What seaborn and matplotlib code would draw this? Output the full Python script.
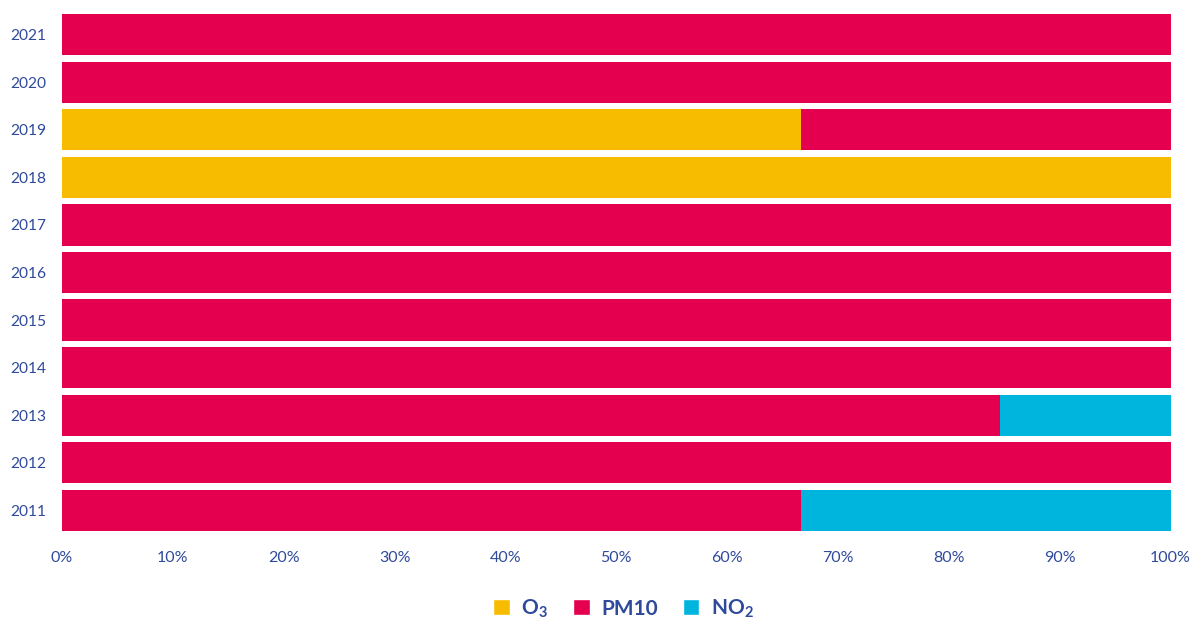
import numpy as np
import pandas as pd
import matplotlib
matplotlib.use('Agg')
import matplotlib.pyplot as plt
import seaborn as sns
from matplotlib.patches import Patch
from matplotlib.ticker import PercentFormatter

# share of exceedance days per pollutant (%)
years = ['2021', '2020', '2019', '2018', '2017', '2016', '2015', '2014', '2013', '2012', '2011']
o3 = [0, 0, 66.7, 100, 0, 0, 0, 0, 0, 0, 0]
pm10 = [100, 100, 33.3, 0, 100, 100, 100, 100, 84.6, 100, 66.7]
no2 = [0, 0, 0, 0, 0, 0, 0, 0, 15.4, 0, 33.3]
labels = ['O$_3$', 'PM10', 'NO$_2$']
colors = ['#F7BC00', '#E4004F', '#00B5DD']
text_col = '#2F4A9C'

df = pd.DataFrame({'year': years, 'O3': o3, 'PM10': pm10, 'NO2': no2})
df['c1'] = df['O3']
df['c2'] = df['O3'] + df['PM10']
df['c3'] = df['c2'] + df['NO2']

sns.set_style('white')
plt.rcParams['font.family'] = ['Lato', 'DejaVu Sans']
plt.rcParams['mathtext.default'] = 'regular'

fig, ax = plt.subplots(figsize=(11.92, 6.25), dpi=100)
fig.subplots_adjust(left=0.052, right=0.982, top=0.9826, bottom=0.1454)

# stacked bars: draw cumulative totals from the widest down
for col, c in zip(['c3', 'c2', 'c1'], colors[::-1]):
    sns.barplot(data=df, x=col, y='year', order=years, color=c, width=0.87,
                orient='h', ax=ax, saturation=1, linewidth=0)

ax.set_xlim(0, 100)
ax.set_xticks(np.arange(0, 101, 10))
ax.xaxis.set_major_formatter(PercentFormatter(decimals=0))
ax.set_xlabel('')
ax.set_ylabel('')
ax.tick_params(axis='both', length=0, labelcolor=text_col)
ax.tick_params(axis='x', pad=12, labelsize=11.5)
ax.tick_params(axis='y', pad=11, labelsize=11.2)
sns.despine(ax=ax, left=True, bottom=True)

handles = [Patch(facecolor=c, label=l) for c, l in zip(colors, labels)]
leg = fig.legend(handles=handles, loc='center', bbox_to_anchor=(0.523, 0.026), ncol=3,
                 frameon=False, handlelength=0.8, handleheight=0.8, columnspacing=1.2,
                 handletextpad=0.55, prop={'size': 15, 'weight': 'bold'})
for t in leg.get_texts():
    t.set_color(text_col)

fig.savefig('out.png', dpi=100)
